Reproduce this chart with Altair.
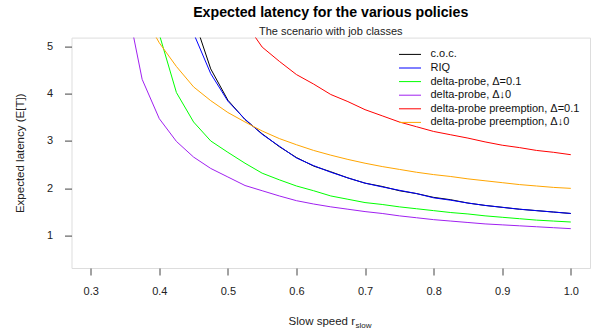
import altair as alt
import pandas as pd

# Slow speed grid (x) and expected latency of each policy (y)
x_grid = [0.35, 0.375, 0.4, 0.425, 0.45, 0.475, 0.5, 0.525, 0.55, 0.575, 0.6, 0.625, 0.65,
          0.675, 0.7, 0.725, 0.75, 0.775, 0.8, 0.825, 0.85, 0.875, 0.9, 0.925, 0.95, 0.975, 1.0]

coc = [None, None, None, 7.0, 5.6, 4.52, 3.86, 3.45, 3.15, 2.88, 2.65, 2.47, 2.35,
       2.22, 2.11, 2.04, 1.95, 1.89, 1.81, 1.76, 1.69, 1.64, 1.60, 1.56, 1.53, 1.50, 1.47]
riq = [None, None, None, 6.3, 5.27, 4.42, 3.84, 3.46, 3.14, 2.89, 2.64, 2.48, 2.34,
       2.22, 2.11, 2.03, 1.96, 1.89, 1.80, 1.75, 1.69, 1.64, 1.60, 1.56, 1.53, 1.50, 1.47]
dp_01 = [None, 6.6, 5.25, 4.02, 3.40, 3.0, 2.76, 2.53, 2.32, 2.18, 2.05, 1.95, 1.84,
         1.77, 1.70, 1.66, 1.61, 1.57, 1.53, 1.49, 1.46, 1.42, 1.39, 1.36, 1.33, 1.31, 1.29]
dp_0 = [6.1, 4.3, 3.47, 2.99, 2.66, 2.42, 2.24, 2.06, 1.95, 1.84, 1.74, 1.67, 1.61,
        1.56, 1.51, 1.47, 1.42, 1.38, 1.34, 1.31, 1.28, 1.25, 1.23, 1.21, 1.19, 1.17, 1.15]
dpp_01 = [None, None, None, None, None, None, None, 5.5, 4.98, 4.68, 4.40, 4.20, 3.98,
          3.83, 3.66, 3.53, 3.40, 3.30, 3.20, 3.13, 3.06, 2.98, 2.91, 2.86, 2.80, 2.76, 2.71]
dpp_0 = [None, 5.7, 5.07, 4.57, 4.14, 3.85, 3.60, 3.40, 3.21, 3.05, 2.92, 2.80, 2.70,
         2.61, 2.53, 2.46, 2.40, 2.34, 2.29, 2.25, 2.20, 2.16, 2.12, 2.08, 2.05, 2.02, 2.0]

names = ["c.o.c.", "RIQ", "delta-probe, Δ=0.1", "delta-probe, Δ↓0",
         "delta-probe preemption, Δ=0.1", "delta-probe preemption, Δ↓0"]
colors = ["#000000", "#0000FF", "#00FF00", "#A020F0", "#FF0000", "#FFA500"]
series_values = [coc, riq, dp_01, dp_0, dpp_01, dpp_0]

x_ticks = [0.3, 0.4, 0.5, 0.6, 0.7, 0.8, 0.9, 1.0]
y_ticks = [1, 2, 3, 4, 5]

rows = []
for name, vals in zip(names, series_values):
    for xv, yv in zip(x_grid, vals):
        if yv is not None:
            rows.append({"series": name, "x": xv, "y": yv})
df = pd.DataFrame(rows)

FONT = "Liberation Sans"

lines = alt.Chart(df).mark_line(strokeWidth=1, clip=True).encode(
    x=alt.X("x:Q",
            scale=alt.Scale(domain=[0.272, 1.028], nice=False, zero=False),
            axis=alt.Axis(values=x_ticks, format=".1f", title=None, grid=False, domain=False,
                          tickSize=7, tickColor="#444", labelPadding=10, labelFontSize=11,
                          labelFont=FONT, labelColor="#222")),
    y=alt.Y("y:Q",
            scale=alt.Scale(domain=[0.32, 5.18], nice=False, zero=False),
            axis=alt.Axis(values=y_ticks, format="d", title="Expected latency (E[T])",
                          grid=False, domain=False, tickSize=7, tickColor="#444",
                          labelPadding=12, labelFontSize=11, labelFont=FONT,
                          labelColor="#222", labelAngle=0, titleFont=FONT,
                          titleFontSize=11.5, titleFontWeight="normal",
                          titleColor="#222", titlePadding=21)),
    color=alt.Color("series:N",
                    scale=alt.Scale(domain=names, range=colors),
                    sort=names,
                    legend=alt.Legend(orient="none", legendX=333, legendY=11.3, title=None,
                                      symbolType="M-2.2,0H2.2", symbolSize=100,
                                      symbolStrokeWidth=1, labelFontSize=11, labelFont=FONT,
                                      labelColor="#111", rowPadding=1.6, labelOffset=15,
                                      padding=0, labelLimit=300)),
    order=alt.Order("x:Q"),
)

xlab = pd.DataFrame({"t": ["Slow speed r"]})
xsub = pd.DataFrame({"t": ["slow"]})

xtitle = alt.Chart(xlab).mark_text(align="right", baseline="alphabetic", font=FONT,
                                   fontSize=11.5, color="#222").encode(
    text="t:N", x=alt.value(283.5), y=alt.value(287.5))
xtitle_sub = alt.Chart(xsub).mark_text(align="left", baseline="alphabetic", font=FONT,
                                       fontSize=8, color="#222").encode(
    text="t:N", x=alt.value(284), y=alt.value(290.5))

chart = alt.layer(lines, xtitle, xtitle_sub).properties(
    width=518.5, height=230.4,
    title=alt.TitleParams("Expected latency for the various policies",
                          subtitle="The scenario with job classes",
                          font=FONT, fontSize=14.2, fontWeight="bold", color="#000",
                          subtitleFont=FONT, subtitleFontSize=11, subtitleColor="#222",
                          anchor="middle", offset=1, subtitlePadding=5),
    padding={"left": 71.5, "top": 37.6, "right": 10, "bottom": 63},
    autosize=alt.AutoSizeParams(type="none"),
).configure_view(stroke="#333", strokeWidth=1).configure(background="white")

chart.save("out.html", embed_options={"renderer": "svg", "actions": False})
